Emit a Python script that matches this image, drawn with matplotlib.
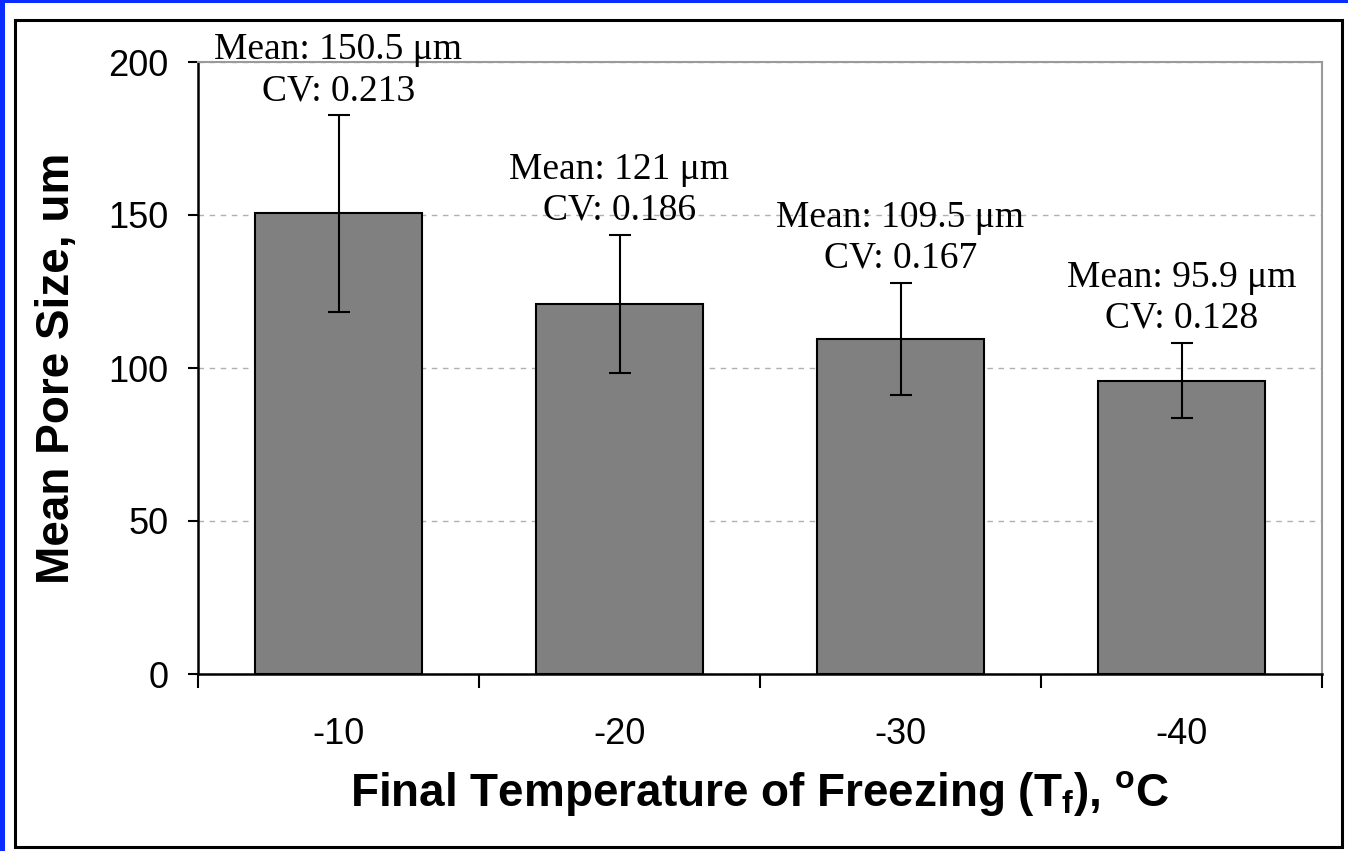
import matplotlib.pyplot as plt
from matplotlib.patches import Rectangle

# Data
temps = ['-10', '-20', '-30', '-40']
mean_pore = [150.5, 121, 109.5, 95.9]
err_pore = [32.1, 22.5, 18.3, 12.3]
cv = ['0.213', '0.186', '0.167', '0.128']
mean_txt = ['150.5', '121', '109.5', '95.9']

plt.rcParams['mathtext.fontset'] = 'custom'
plt.rcParams['mathtext.rm'] = 'Liberation Sans'
plt.rcParams['mathtext.bf'] = 'Liberation Sans:bold'

W, H = 1348, 851
fig = plt.figure(figsize=(W / 100, H / 100), dpi=100, facecolor='white')

# blue slide border + inner black frame
fig.patches.append(Rectangle((0, 0), 5 / W, 1, transform=fig.transFigure,
                             facecolor='#0a2cff', edgecolor='none'))
fig.patches.append(Rectangle((0, 1 - 3 / H), 1, 3 / H, transform=fig.transFigure,
                             facecolor='#0a2cff', edgecolor='none'))
fig.patches.append(Rectangle((15 / W, 4 / H), (1342 - 15) / W, (847 - 20) / H,
                             transform=fig.transFigure, facecolor='none',
                             edgecolor='black', linewidth=2.2))

ax = fig.add_axes([198 / W, (H - 674) / H, (1322 - 198) / W, (674 - 62) / H])
x = range(len(temps))
ax.bar(x, mean_pore, width=0.595, color='#808080', edgecolor='black',
       linewidth=1.5, zorder=3)
ax.errorbar(x, mean_pore, yerr=err_pore, fmt='none', ecolor='black',
            elinewidth=1.5, capsize=8, capthick=1.5, zorder=4)

for i in x:
    ax.annotate(f'Mean: {mean_txt[i]} \u03bcm\nCV: {cv[i]}',
                xy=(i, mean_pore[i] + err_pore[i]), xytext=(0, 5),
                textcoords='offset points', ha='center', va='bottom',
                fontsize=27, family='Liberation Serif', linespacing=1.25,
                annotation_clip=False, zorder=5)

ax.set_xlim(-0.5, 3.5)
ax.set_ylim(0, 200)
ax.set_yticks([0, 50, 100, 150, 200])
ax.yaxis.grid(True, linestyle=(0, (4, 4)), color='#b0b0b0', linewidth=1, zorder=0)
ax.set_axisbelow(True)

ax.set_xticks([-0.5, 0.5, 1.5, 2.5, 3.5])
ax.set_xticklabels([])
ax.set_xticks(list(x), minor=True)
ax.set_xticklabels(temps, minor=True)
ax.tick_params(axis='x', which='major', direction='out', length=10, width=1.5)
ax.tick_params(axis='x', which='minor', length=0, pad=31, labelsize=26)
ax.tick_params(axis='y', direction='out', length=7, width=1.5, labelsize=26, pad=14)
for lab in ax.get_xticklabels(minor=True) + ax.get_yticklabels():
    lab.set_family('Liberation Sans')

for s in ['left', 'bottom']:
    ax.spines[s].set_linewidth(1.8)
for s in ['top', 'right']:
    ax.spines[s].set_color('#9a9a9a')
    ax.spines[s].set_linewidth(1.5)

ax.set_ylabel('Mean Pore Size, um', fontsize=33, fontweight='bold',
              family='Liberation Sans', va='center')
ax.yaxis.set_label_coords(-0.125, 0.5)
ax.set_xlabel(r'Final Temperature of Freezing (T$_\mathbf{f}$), $^\mathbf{o}$C',
              fontsize=33, fontweight='bold', family='Liberation Sans', va='center')
ax.xaxis.set_label_coords(0.5, -0.195)

fig.savefig('out.png', dpi=100, facecolor='white')
